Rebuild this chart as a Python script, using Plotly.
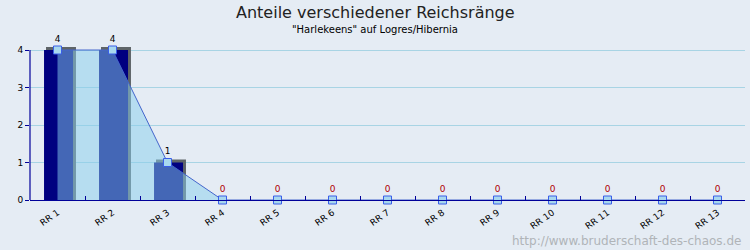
import plotly.graph_objects as go

categories = ["RR 1", "RR 2", "RR 3", "RR 4", "RR 5", "RR 6", "RR 7",
              "RR 8", "RR 9", "RR 10", "RR 11", "RR 12", "RR 13"]
values = [4, 4, 1, 0, 0, 0, 0, 0, 0, 0, 0, 0, 0]
y_ticks = [0, 1, 2, 3, 4]

title = "Anteile verschiedener Reichsränge"
subtitle = '"Harlekeens" auf Logres/Hibernia'
watermark = "http://www.bruderschaft-des-chaos.de"

FONT = "DejaVu Sans"
depth = 0.08  # 3D depth in value units
headroom = 0.107

back_vals = [v + depth if v > 0 else 0 for v in values]
label_colors = ["#000000" if v > 0 else "#b00000" for v in values]
ymax = max(y_ticks)

fig = go.Figure()

# 3D back/side of bars
fig.add_trace(go.Bar(
    x=categories, y=back_vals, width=0.545, offset=-0.209,
    marker=dict(color="#5e6468", line=dict(width=0)),
    hoverinfo="skip", showlegend=False,
))
# front of bars
fig.add_trace(go.Bar(
    x=categories, y=values, width=0.527, offset=-0.245,
    marker=dict(color="#000080", line=dict(width=0)),
    showlegend=False,
))
# area + line + markers
fig.add_trace(go.Scatter(
    x=categories, y=values, mode="lines+markers+text",
    fill="tozeroy", fillcolor="rgba(135,206,235,0.5)",
    line=dict(color="#4466cc", width=1),
    marker=dict(symbol="square", size=8, color="#a8d8ee",
                line=dict(color="#3a5ee8", width=1)),
    text=[str(v) for v in values], textposition="top center",
    textfont=dict(family=FONT, size=9, color=label_colors),
    cliponaxis=False, showlegend=False,
))

cx = (375 - 30) / 715

fig.update_layout(
    width=750, height=250,
    margin=dict(l=30, r=5, t=46, b=50),
    paper_bgcolor="#e5ecf4", plot_bgcolor="#e5ecf4",
    barmode="overlay",
    font=dict(family=FONT, size=9, color="#000000"),
    shapes=[
        dict(type="line", xref="paper", yref="y", x0=0, x1=0, y0=0, y1=ymax,
             line=dict(color="#000099", width=1.2), layer="above"),
    ],
    annotations=[
        dict(text=title, x=cx, y=1.0, xref="paper", yref="paper",
             xanchor="center", yanchor="top", yshift=46 - 1, showarrow=False,
             font=dict(family=FONT, size=16, color="#222222")),
        dict(text=subtitle, x=cx, y=1.0, xref="paper", yref="paper",
             xanchor="center", yanchor="top", yshift=46 - 22, showarrow=False,
             font=dict(family=FONT, size=10, color="#000000")),
        dict(text=watermark, x=1.0, y=0.0, xref="paper", yref="paper",
             xanchor="right", yanchor="bottom", xshift=-2, yshift=-50, showarrow=False,
             font=dict(family=FONT, size=12, color="#b0b4b8")),
    ],
)
fig.update_xaxes(
    type="category", range=[-0.5, len(categories) - 0.5],
    showline=True, linecolor="#000099", linewidth=1.2,
    ticks="inside", tickson="boundaries", ticklen=4, tickcolor="#000099",
    tickangle=-35, ticklabelstandoff=3,
    tickfont=dict(family=FONT, size=9, color="#000000"),
    showgrid=False, zeroline=False, fixedrange=True,
)
fig.update_yaxes(
    range=[0, ymax + headroom], tickvals=y_ticks,
    showline=False,
    ticks="outside", ticklen=4, tickcolor="#000099",
    tickfont=dict(family=FONT, size=9, color="#000000"),
    showgrid=True, gridcolor="#a8d4e4", gridwidth=1,
    zeroline=False, fixedrange=True,
)

fig.write_html("out.html")
